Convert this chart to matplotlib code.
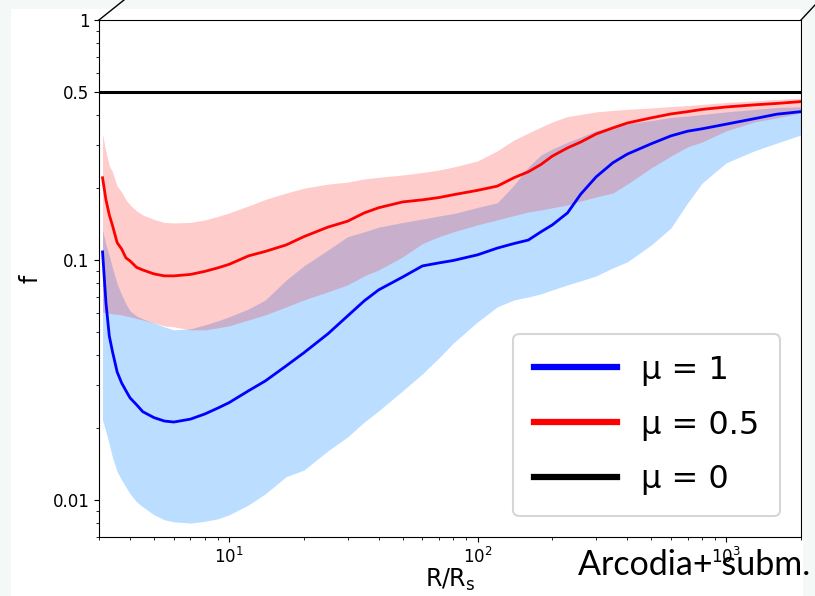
import numpy as np
import matplotlib.pyplot as plt
from matplotlib.lines import Line2D
from matplotlib.patches import Rectangle
from matplotlib.ticker import NullFormatter

# ── data ──────────────────────────────────────────────────────────────────────
r_over_rs = [3.1, 3.2, 3.3, 3.4, 3.55, 3.7, 3.85, 4.0, 4.25, 4.5, 5, 5.5, 6, 7,
             8, 9, 10, 12, 14, 17, 20, 25, 30, 35, 40, 50, 60, 70, 80, 100, 120,
             140, 160, 180, 200, 230, 260, 300, 350, 400, 500, 600, 700, 800,
             1000, 1300, 1600, 2000]

# mu = 1 (median, lower and upper envelope)
f_mu1 = [0.108, 0.0662, 0.0482, 0.0414, 0.0341, 0.0307, 0.0285, 0.0266, 0.0249,
         0.0233, 0.0220, 0.0213, 0.0211, 0.0217, 0.0228, 0.0241, 0.0254, 0.0285,
         0.0313, 0.0362, 0.0410, 0.0492, 0.0584, 0.0675, 0.0750, 0.0849, 0.0944,
         0.0972, 0.0995, 0.105, 0.112, 0.117, 0.121, 0.131, 0.140, 0.157, 0.188,
         0.222, 0.254, 0.276, 0.305, 0.329, 0.344, 0.352, 0.368, 0.388, 0.405,
         0.415]
f_mu1_lo = [0.0215, 0.0192, 0.0170, 0.0150, 0.0131, 0.0121, 0.0113, 0.0106,
            0.00981, 0.00935, 0.00866, 0.00825, 0.0081, 0.0080, 0.00814,
            0.00833, 0.00866, 0.00953, 0.0106, 0.0125, 0.0133, 0.0160, 0.0183,
            0.0211, 0.0235, 0.0285, 0.0335, 0.0391, 0.0451, 0.0552, 0.0637,
            0.0681, 0.0701, 0.0722, 0.0750, 0.0787, 0.0818, 0.0858, 0.0926,
            0.0981, 0.1155, 0.136, 0.173, 0.209, 0.254, 0.285, 0.307, 0.332]
f_mu1_hi = [0.1334, 0.1155, 0.1039, 0.0926, 0.0794, 0.0715, 0.0656, 0.0613,
            0.0584, 0.0568, 0.0546, 0.0526, 0.0511, 0.0516, 0.0536, 0.0557,
            0.0579, 0.0625, 0.0681, 0.0825, 0.0944, 0.110, 0.125, 0.131, 0.137,
            0.1433, 0.148, 0.1525, 0.156, 0.1655, 0.173, 0.205, 0.244, 0.274,
            0.290, 0.309, 0.325, 0.346, 0.358, 0.369, 0.381, 0.3925, 0.398,
            0.404, 0.414, 0.424, 0.432, 0.435]

# mu = 0.5
f_mu05 = [0.220, 0.178, 0.154, 0.139, 0.118, 0.111, 0.102, 0.0990, 0.0931,
          0.0908, 0.0874, 0.0858, 0.0858, 0.0870, 0.0896, 0.0926, 0.0958, 0.104,
          0.1085, 0.1155, 0.125, 0.137, 0.145, 0.157, 0.165, 0.1745, 0.178,
          0.182, 0.187, 0.195, 0.203, 0.220, 0.233, 0.250, 0.271, 0.293, 0.310,
          0.335, 0.355, 0.372, 0.391, 0.406, 0.415, 0.424, 0.434, 0.443, 0.449,
          0.457]
f_mu05_lo = [0.0607, 0.0602, 0.0599, 0.0596, 0.0593, 0.0590, 0.0584, 0.0579,
             0.0570, 0.0562, 0.0546, 0.0531, 0.0526, 0.0511, 0.0511, 0.0521,
             0.0531, 0.0562, 0.0590, 0.0637, 0.0681, 0.0736, 0.0787, 0.0858,
             0.0908, 0.103, 0.117, 0.125, 0.131, 0.140, 0.1468, 0.153, 0.1585,
             0.1615, 0.165, 0.1695, 0.176, 0.183, 0.190, 0.207, 0.242, 0.271,
             0.296, 0.310, 0.345, 0.376, 0.391, 0.410]
f_mu05_hi = [0.335, 0.282, 0.2465, 0.233, 0.203, 0.192, 0.178, 0.1695, 0.160,
             0.154, 0.1475, 0.1433, 0.1426, 0.1433, 0.1468, 0.1518, 0.157, 0.168,
             0.1787, 0.190, 0.199, 0.207, 0.211, 0.2175, 0.221, 0.226, 0.2315,
             0.237, 0.244, 0.2585, 0.285, 0.316, 0.338, 0.358, 0.376, 0.396,
             0.404, 0.414, 0.420, 0.424, 0.430, 0.436, 0.440, 0.445, 0.453,
             0.460, 0.4665, 0.473]

# mu = 0 is flat
f_mu0 = 0.5

labels = ['μ = 1', 'μ = 0.5', 'μ = 0']
line_colors = ['blue', 'red', 'black']

yticks = [0.01, 0.1, 0.5, 1]
ytick_labels = ['0.01', '0.1', '0.5', '1']

# ── figure ────────────────────────────────────────────────────────────────────
W, H = 815, 596
fig = plt.figure(figsize=(W / 100, H / 100), dpi=100)
fig.patch.set_facecolor('#f4f8f6')
fig.patches.append(Rectangle((11 / W, 0), (803 - 11) / W, (H - 9) / H,
                             transform=fig.transFigure, facecolor='white',
                             edgecolor='none', zorder=-10))

ax = fig.add_axes([99 / W, (H - 537) / H, (801 - 99) / W, (537 - 20) / H])
ax.set_xscale('log')
ax.set_yscale('log')

ax.fill_between(r_over_rs, f_mu1_lo, f_mu1_hi, color='#1e90ff', alpha=0.3, lw=0)
ax.fill_between(r_over_rs, f_mu05_lo, f_mu05_hi, color='red', alpha=0.2, lw=0)

ax.plot(r_over_rs, f_mu1, color=line_colors[0], lw=2.0)
ax.plot(r_over_rs, f_mu05, color=line_colors[1], lw=2.0)
ax.axhline(f_mu0, color=line_colors[2], lw=2.2)

ax.set_xlim(3, 2000)
ax.set_ylim(0.007, 1)
ax.set_yticks(yticks, ytick_labels)
ax.yaxis.set_minor_formatter(NullFormatter())
ax.xaxis.set_minor_formatter(NullFormatter())
ax.tick_params(labelsize=12)

ax.set_xlabel('R/R$_{\\rm s}$', fontsize=17, labelpad=0)
ax.set_ylabel('f', fontsize=17)
ax.yaxis.set_label_coords(-0.08, 0.5)

handles = [Line2D([], [], color=c, lw=4.5) for c in line_colors]
leg = ax.legend(handles, labels, loc='lower right', fontsize=23,
                handlelength=2.6, handletextpad=0.75, labelspacing=0.75,
                borderpad=0.65, borderaxespad=0.65, framealpha=0.8, fancybox=True)
leg.get_frame().set_edgecolor('#cccccc')
leg.get_frame().set_linewidth(1.5)

# slide decorations
fig.add_artist(Line2D([99 / W, 124 / W], [1 - 20 / H, 1.0], color='black',
                      lw=1, transform=fig.transFigure))
fig.add_artist(Line2D([801 / W, 815 / W], [1 - 20 / H, 1 - 5 / H],
                      color='black', lw=1, transform=fig.transFigure))
fig.text(578 / W, (H - 575) / H, 'Arcodia+ subm.', fontsize=24.5,
         family='Lato', ha='left', va='baseline')

fig.savefig('out.png', dpi=100, facecolor=fig.get_facecolor())
